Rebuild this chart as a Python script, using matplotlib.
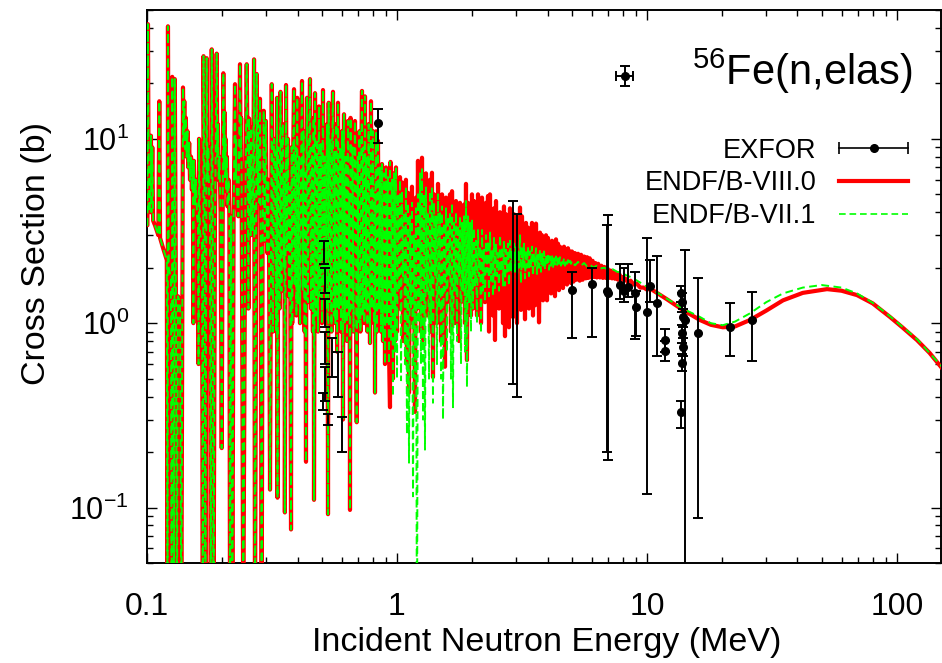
import numpy as np
import matplotlib
matplotlib.use("Agg")
import matplotlib.pyplot as plt
from matplotlib.lines import Line2D
from matplotlib.legend_handler import HandlerLine2D, HandlerTuple
from matplotlib.ticker import NullFormatter, LogLocator, FixedLocator, FixedFormatter

plt.rcParams['font.family'] = ['Liberation Sans', 'DejaVu Sans']
plt.rcParams['mathtext.fontset'] = 'custom'
plt.rcParams['mathtext.rm'] = 'Liberation Sans'
plt.rcParams['mathtext.it'] = 'Liberation Sans:italic'
plt.rcParams['mathtext.bf'] = 'Liberation Sans:bold'

# ---------------- data (energy in MeV, cross section in b) ----------------
# resolved-resonance region, common to both evaluations (0.1 - 0.9 MeV)
res_low_pts = [
    (0.1000, 3.40), (0.1004, 3.40), (0.1009, 41.9), (0.1016, 4.2), (0.1030, 4.0),
    (0.1037, 10.4), (0.1042, 4.0), (0.1050, 9.0), (0.1058, 3.6), (0.1076, 3.4),
    (0.1110, 3.0), (0.1120, 16.0), (0.1128, 2.9), (0.1160, 2.55), (0.1200, 2.2),
    (0.1208, 0.02), (0.1213, 40.8), (0.1222, 2.0), (0.1247, 1.75), (0.1255, 0.02),
    (0.1262, 21.7), (0.1275, 1.6), (0.1283, 0.02), (0.1292, 21.1), (0.1305, 1.5),
    (0.1318, 0.02), (0.1330, 1.4), (0.1355, 1.3), (0.1372, 0.02), (0.1393, 19.0),
    (0.1400, 9.8), (0.1410, 16.0), (0.1420, 8.8), (0.1430, 13.0), (0.1440, 8.0),
    (0.1452, 11.0), (0.1462, 7.0), (0.1475, 9.5), (0.1486, 6.0), (0.1500, 8.0),
    (0.1512, 5.3), (0.1525, 7.6), (0.1533, 1.0), (0.1540, 7.6), (0.1556, 4.4),
    (0.1570, 6.0), (0.1585, 3.8), (0.1600, 3.5), (0.1608, 0.6), (0.1615, 10.0),
    (0.1629, 3.1), (0.1660, 2.7), (0.1672, 0.02), (0.1683, 28.1), (0.1700, 3.5),
    (0.1712, 0.02), (0.1733, 27.4), (0.1745, 6.0), (0.1760, 9.0), (0.1772, 4.5),
    (0.1785, 3.6), (0.1800, 0.02), (0.1815, 30.6), (0.1830, 5.0), (0.1845, 0.02),
    (0.1870, 3.5), (0.1900, 29.0), (0.1912, 8.0), (0.1922, 12.0), (0.1935, 6.0),
    (0.1950, 8.0), (0.1970, 4.0), (0.1990, 0.21), (0.2020, 22.7), (0.2030, 7.0),
    (0.2040, 14.0), (0.2050, 6.2), (0.2062, 10.0), (0.2075, 5.2), (0.2088, 8.0),
    (0.2100, 4.3), (0.2120, 6.0), (0.2135, 3.8), (0.2148, 0.02), (0.2170, 3.8),
    (0.2195, 0.02), (0.2220, 3.6), (0.2249, 19.8), (0.2262, 6.0), (0.2275, 10.0),
    (0.2290, 5.0), (0.2320, 3.8), (0.2355, 25.4), (0.2370, 8.0), (0.2380, 13.0),
    (0.2390, 6.5), (0.2427, 0.02), (0.2470, 3.5), (0.2505, 25.4), (0.2530, 7.0),
    (0.2545, 1.2), (0.2560, 12.9), (0.2575, 4.5), (0.2590, 8.0), (0.2600, 3.0),
    (0.2610, 11.5), (0.2630, 4.0), (0.2650, 3.2), (0.2680, 27.0), (0.2704, 0.02),
    (0.2746, 22.5), (0.2760, 7.0), (0.2770, 13.0), (0.2780, 5.0), (0.2800, 9.0),
    (0.2815, 4.5), (0.2831, 16.5), (0.2850, 3.0), (0.2875, 0.02), (0.2900, 2.6),
    (0.2930, 14.2), (0.2945, 4.5), (0.2960, 2.8), (0.2975, 7.0), (0.2990, 12.5),
    (0.3010, 3.5), (0.3030, 2.4), (0.3055, 6.0), (0.3080, 2.0), (0.3105, 0.125),
    (0.3155, 19.8), (0.3175, 5.0), (0.3192, 0.9), (0.3220, 10.0), (0.3251, 8.0),
    (0.3266, 3.0), (0.3281, 0.9), (0.3296, 6.0), (0.3312, 16.7), (0.3327, 0.113),
    (0.3342, 9.0), (0.3357, 6.0), (0.3373, 2.5), (0.3390, 1.2), (0.3405, 7.0),
    (0.3420, 18.0), (0.3436, 4.0), (0.3450, 1.5), (0.3467, 8.0), (0.3500, 12.0),
    (0.3515, 3.5), (0.3530, 2.0), (0.3545, 6.5), (0.3560, 0.094), (0.3598, 19.6),
    (0.3615, 5.0), (0.3631, 2.5), (0.3648, 7.0), (0.3665, 10.0), (0.3682, 3.0),
    (0.3699, 1.4), (0.3733, 5.5), (0.3768, 0.076), (0.3790, 9.0), (0.3800, 3.0),
    (0.3810, 1.0), (0.3838, 7.5), (0.3873, 18.6), (0.3885, 4.0), (0.3900, 1.6),
    (0.3915, 6.0), (0.3930, 9.0), (0.3945, 3.5), (0.3960, 1.1), (0.3975, 7.0),
    (0.3990, 16.7), (0.4005, 4.5), (0.4018, 1.28), (0.4036, 5.5), (0.4055, 8.0),
    (0.4074, 2.5), (0.4093, 1.0), (0.4131, 7.0), (0.4169, 20.6), (0.4185, 5.0),
    (0.4200, 1.5), (0.4215, 6.0), (0.4230, 11.0), (0.4250, 3.0), (0.4270, 0.9),
    (0.4300, 6.5), (0.4325, 0.177), (0.4345, 7.5), (0.4365, 16.7), (0.4383, 4.0),
    (0.4400, 1.3), (0.4446, 7.0), (0.4487, 21.1), (0.4508, 5.0), (0.4530, 1.2),
    (0.4550, 6.0), (0.4570, 9.0), (0.4590, 3.0), (0.4610, 0.9), (0.4625, 6.0),
    (0.4640, 13.0), (0.4656, 0.11), (0.4700, 17.7), (0.4720, 4.0), (0.4742, 1.1),
    (0.4764, 6.0), (0.4786, 10.0), (0.4808, 3.5), (0.4831, 0.9), (0.4853, 7.0),
    (0.4875, 15.0), (0.4897, 4.0), (0.4920, 1.4), (0.4943, 6.0), (0.4966, 9.5),
    (0.4990, 3.0), (0.5012, 1.0), (0.5035, 7.0), (0.5058, 18.4), (0.5080, 4.5),
    (0.5105, 1.6), (0.5128, 6.5), (0.5152, 8.0), (0.5176, 3.0), (0.5200, 1.2),
    (0.5224, 6.0), (0.5248, 12.0), (0.5272, 3.5), (0.5297, 0.092), (0.5330, 15.7),
    (0.5350, 4.0), (0.5370, 1.3), (0.5395, 6.5), (0.5420, 10.0), (0.5445, 3.0),
    (0.5470, 0.9), (0.5495, 7.0), (0.5546, 18.0), (0.5568, 4.5), (0.5590, 1.1),
    (0.5605, 5.5), (0.5620, 8.5), (0.5645, 3.0), (0.5670, 1.0), (0.5695, 6.5),
    (0.5720, 12.0), (0.5740, 3.5), (0.5760, 0.7), (0.5784, 6.0), (0.5808, 15.7),
    (0.5834, 4.5), (0.5860, 1.2), (0.5890, 6.0), (0.5920, 9.0), (0.5945, 3.0),
    (0.5970, 0.9), (0.6000, 6.5), (0.6026, 11.0), (0.6055, 3.0), (0.6081, 0.3),
    (0.6110, 7.0), (0.6138, 13.6), (0.6165, 4.0), (0.6190, 1.0), (0.6220, 5.5),
    (0.6250, 8.0), (0.6280, 3.0), (0.6310, 0.8), (0.6340, 6.0), (0.6368, 12.5),
    (0.6400, 4.0), (0.6430, 1.1), (0.6460, 5.0), (0.6486, 0.097), (0.6520, 13.0),
    (0.6550, 4.5), (0.6580, 1.2), (0.6610, 6.0), (0.6640, 9.0), (0.6670, 3.0),
    (0.6700, 0.9), (0.6745, 6.5), (0.6792, 12.5), (0.6845, 4.0), (0.6900, 0.29),
    (0.6930, 5.0), (0.6960, 8.0), (0.6990, 3.0), (0.7020, 1.0), (0.7050, 6.0),
    (0.7080, 11.0), (0.7110, 3.5), (0.7140, 0.9), (0.7190, 7.0), (0.7244, 18.2),
    (0.7267, 4.0), (0.7290, 1.1), (0.7315, 6.0), (0.7340, 9.0), (0.7370, 3.0),
    (0.7400, 1.0), (0.7425, 7.0), (0.7447, 17.0), (0.7475, 4.5), (0.7500, 1.2),
    (0.7525, 5.5), (0.7550, 8.0), (0.7585, 3.0), (0.7620, 0.9), (0.7660, 6.0),
    (0.7700, 12.0), (0.7750, 3.5), (0.7798, 0.78), (0.7835, 7.0), (0.7870, 16.0),
    (0.7905, 4.0), (0.7943, 1.2), (0.7980, 6.0), (0.8017, 11.0), (0.8055, 3.5),
    (0.8090, 1.0), (0.8130, 5.0), (0.8166, 0.42), (0.8200, 6.0), (0.8241, 11.0),
    (0.8280, 3.0), (0.8318, 0.9), (0.8355, 5.5), (0.8395, 9.75), (0.8435, 3.5),
    (0.8472, 1.2), (0.8510, 4.5), (0.8551, 7.0), (0.8590, 2.5), (0.8630, 0.9),
    (0.8670, 4.5), (0.8710, 7.3), (0.8750, 2.5), (0.8790, 0.8), (0.8830, 4.0),
    (0.8872, 6.5), (0.8910, 2.5), (0.8954, 0.6),
]

# ENDF/B-VIII.0 above 0.9 MeV
viii_high_pts = [
    (0.9036, 7.0), (0.9080, 2.5), (0.9120, 1.0), (0.9160, 4.0), (0.9204, 6.2),
    (0.9250, 2.0), (0.9290, 0.7), (0.9376, 0.35), (0.9420, 7.5), (0.9440, 3.0),
    (0.9462, 0.9), (0.9505, 4.5), (0.9550, 6.0), (0.9595, 2.0), (0.9638, 0.5),
    (0.9680, 4.0), (0.9727, 6.5), (0.9770, 2.5), (0.9817, 0.8), (0.9860, 4.5),
    (0.9908, 7.0), (0.9950, 2.5),
    (1.000, 0.9), (1.009, 5.5), (1.019, 1.2), (1.028, 6.2), (1.038, 2.0),
    (1.047, 5.8), (1.057, 0.8), (1.067, 4.5), (1.076, 1.5), (1.086, 6.0),
    (1.096, 0.6), (1.106, 5.1), (1.117, 0.42), (1.127, 4.0), (1.138, 1.8),
    (1.148, 5.5), (1.159, 1.0), (1.169, 3.5), (1.180, 0.33), (1.191, 4.8),
    (1.202, 1.2), (1.213, 7.6), (1.225, 2.0), (1.236, 6.0), (1.247, 0.9),
    (1.259, 7.9), (1.271, 0.81), (1.282, 5.5), (1.294, 1.6), (1.306, 6.5),
    (1.318, 1.1), (1.330, 4.5), (1.343, 2.2), (1.355, 6.0), (1.368, 0.9),
    (1.380, 6.55), (1.393, 0.51), (1.406, 5.0), (1.419, 1.5), (1.432, 4.2),
    (1.445, 1.0), (1.459, 5.7), (1.472, 2.0), (1.486, 4.5), (1.500, 0.8),
    (1.514, 5.0), (1.528, 1.4), (1.542, 3.8), (1.556, 0.58), (1.570, 4.8),
    (1.585, 1.3), (1.600, 4.2), (1.614, 2.0), (1.629, 5.0), (1.644, 0.9),
    (1.660, 5.2), (1.675, 1.5), (1.690, 4.0), (1.706, 1.0), (1.722, 4.6),
    (1.738, 2.0), (1.754, 3.8), (1.770, 0.8), (1.786, 4.5), (1.803, 1.3),
    (1.820, 4.0), (1.837, 1.8), (1.854, 4.4), (1.871, 1.0), (1.888, 5.7),
    (1.905, 0.63), (1.923, 4.5), (1.941, 1.4), (1.959, 4.0), (1.977, 1.1),
    (1.995, 5.0), (2.013, 1.2), (2.032, 4.6), (2.051, 1.5), (2.070, 3.5),
    (2.089, 1.1), (2.109, 5.0), (2.128, 2.0), (2.148, 4.2), (2.168, 1.0),
    (2.188, 4.8), (2.208, 1.6), (2.229, 3.8), (2.249, 1.3), (2.270, 4.5),
    (2.291, 2.2), (2.312, 4.9), (2.334, 0.9), (2.355, 5.0), (2.377, 1.4),
    (2.399, 3.6), (2.421, 1.1), (2.444, 4.2), (2.466, 0.81), (2.489, 4.6),
    (2.512, 1.8), (2.535, 3.5), (2.559, 1.2), (2.582, 4.0), (2.606, 2.0),
    (2.630, 3.4), (2.655, 1.0), (2.679, 4.3), (2.704, 0.85), (2.729, 3.9),
    (2.754, 1.6), (2.780, 3.8), (2.805, 0.95), (2.831, 4.2), (2.858, 1.4),
    (2.884, 3.3), (2.911, 1.08), (2.938, 3.9), (2.965, 1.8), (2.992, 3.2),
    (3.020, 1.0), (3.048, 3.6), (3.076, 1.5), (3.105, 4.24), (3.133, 1.18),
    (3.162, 3.8), (3.192, 2.0), (3.221, 3.3), (3.251, 1.05), (3.281, 3.5),
    (3.312, 1.4), (3.342, 3.3), (3.373, 1.2), (3.404, 3.0), (3.436, 1.8),
    (3.467, 3.5), (3.500, 1.1), (3.532, 3.2), (3.565, 1.25), (3.598, 3.47),
    (3.631, 1.6), (3.665, 2.9), (3.699, 1.01), (3.733, 3.1), (3.768, 1.5),
    (3.802, 3.0), (3.838, 1.33), (3.873, 2.8), (3.908, 1.7), (3.945, 3.0),
    (3.981, 1.33), (4.018, 2.9), (4.055, 1.6), (4.093, 2.7), (4.131, 1.45),
    (4.169, 2.8), (4.208, 1.7), (4.246, 2.6), (4.285, 1.4), (4.325, 2.85),
    (4.365, 1.65), (4.406, 2.7), (4.446, 1.51), (4.487, 2.6), (4.529, 1.75),
    (4.571, 2.55), (4.613, 1.55), (4.656, 2.6), (4.699, 1.7), (4.742, 2.5),
    (4.786, 1.62), (4.831, 2.55), (4.875, 1.8), (4.920, 2.45), (4.966, 1.65),
    (5.012, 2.45), (5.080, 1.68), (5.150, 2.40), (5.220, 1.72), (5.300, 2.38),
    (5.380, 1.70), (5.450, 2.35), (5.530, 1.72), (5.610, 2.30), (5.690, 1.75),
    (5.760, 2.28), (5.830, 1.76), (5.900, 2.25), (5.980, 1.77), (6.060, 2.18),
    (6.140, 1.78), (6.220, 2.12), (6.300, 1.77), (6.380, 2.10), (6.480, 1.77),
    (6.570, 2.05), (6.660, 1.76), (6.750, 2.02), (6.850, 1.76), (6.950, 1.98),
    (7.050, 1.76), (7.150, 1.93), (7.250, 1.75), (7.350, 1.90), (7.450, 1.74),
    (7.550, 1.87), (7.660, 1.72), (7.780, 1.83), (7.900, 1.71), (8.000, 1.78),
    (8.200, 1.74), (8.400, 1.66), (8.600, 1.70), (8.850, 1.62), (9.100, 1.64),
    (9.400, 1.56), (9.700, 1.56), (10.00, 1.52),
]
viii_smooth_pts = [
    (10.3, 1.54), (12.0, 1.35), (13.9, 1.18), (16.3, 1.04), (18.0, 0.98),
    (20.1, 0.95), (22.5, 0.96), (25.8, 1.04), (30.0, 1.17), (35.0, 1.33),
    (42.0, 1.46), (52.5, 1.53), (60.0, 1.50), (69.2, 1.42), (80.0, 1.28),
    (93.8, 1.08), (105.0, 0.95), (120.2, 0.81), (135.0, 0.69), (151.4, 0.57),
]

# ENDF/B-VII.1 above 0.9 MeV
vii_high_pts = [
    (0.9036, 7.0), (0.9080, 2.0), (0.9120, 1.0), (0.9160, 4.5), (0.9204, 6.2),
    (0.9250, 1.5), (0.9290, 0.6), (0.9330, 3.5), (0.9376, 7.5), (0.9420, 2.0),
    (0.9462, 0.8), (0.9505, 4.0), (0.9550, 6.0), (0.9595, 1.5), (0.9638, 0.4),
    (0.9680, 3.5), (0.9727, 6.5), (0.9770, 2.0), (0.9817, 0.7), (0.9860, 4.0),
    (0.9908, 7.0), (0.9950, 2.0),
    (1.000, 0.5), (1.009, 5.0), (1.019, 1.5), (1.028, 6.0), (1.038, 0.49),
    (1.047, 5.2), (1.057, 1.8), (1.067, 4.0), (1.076, 0.6), (1.086, 5.5),
    (1.096, 0.25), (1.106, 4.5), (1.117, 0.175), (1.127, 3.8), (1.138, 1.2),
    (1.148, 4.5), (1.159, 0.115), (1.169, 3.0), (1.180, 0.5), (1.191, 4.2),
    (1.202, 0.01), (1.213, 5.0), (1.225, 1.0), (1.236, 6.5), (1.247, 0.6),
    (1.259, 7.0), (1.271, 0.3), (1.282, 5.0), (1.294, 0.206), (1.306, 5.5),
    (1.318, 1.5), (1.330, 4.0), (1.343, 0.5), (1.355, 5.2), (1.368, 1.0),
    (1.380, 5.5), (1.393, 0.37), (1.406, 4.5), (1.419, 1.8), (1.432, 3.8),
    (1.445, 0.6), (1.459, 5.0), (1.472, 1.2), (1.486, 4.0), (1.500, 0.5),
    (1.514, 4.3), (1.528, 0.3), (1.542, 3.5), (1.556, 1.5), (1.570, 4.2),
    (1.585, 0.7), (1.600, 3.8), (1.614, 1.8), (1.629, 4.0), (1.644, 0.5),
    (1.660, 4.5), (1.675, 0.35), (1.690, 3.6), (1.706, 1.5), (1.722, 4.0),
    (1.738, 0.8), (1.754, 3.4), (1.770, 1.8), (1.786, 3.8), (1.803, 0.6),
    (1.820, 3.5), (1.837, 1.5), (1.854, 3.8), (1.871, 0.7), (1.888, 4.6),
    (1.905, 0.45), (1.923, 3.8), (1.941, 1.3), (1.959, 3.5), (1.977, 0.9),
    (1.995, 3.6), (2.013, 1.2), (2.032, 3.3), (2.051, 1.6), (2.070, 2.8),
    (2.089, 1.0), (2.109, 3.2), (2.128, 1.8), (2.148, 2.6), (2.168, 0.88),
    (2.188, 3.2), (2.208, 1.5), (2.229, 2.5), (2.249, 1.3), (2.270, 3.0),
    (2.291, 1.9), (2.312, 2.8), (2.334, 1.4), (2.355, 3.1), (2.377, 1.7),
    (2.399, 2.5), (2.421, 1.4), (2.444, 2.9), (2.466, 1.5), (2.489, 2.7),
    (2.512, 1.8), (2.535, 2.4), (2.559, 1.5), (2.582, 3.0), (2.606, 1.9),
    (2.630, 2.6), (2.655, 1.6), (2.679, 2.8), (2.704, 1.6), (2.729, 2.5),
    (2.754, 1.9), (2.780, 2.7), (2.805, 1.6), (2.831, 2.8), (2.858, 1.9),
    (2.884, 2.5), (2.911, 1.7), (2.938, 2.7), (2.965, 1.9), (2.992, 2.6),
    (3.020, 1.7), (3.048, 2.5), (3.076, 2.0), (3.105, 3.0), (3.133, 1.65),
    (3.162, 2.6), (3.192, 2.0), (3.221, 2.7), (3.251, 1.75), (3.281, 2.5),
    (3.312, 2.0), (3.342, 2.6), (3.373, 1.8), (3.404, 2.45), (3.436, 2.0),
    (3.467, 2.6), (3.500, 1.8), (3.532, 2.4), (3.565, 2.0), (3.598, 2.55),
    (3.631, 1.85), (3.665, 2.35), (3.699, 2.0), (3.733, 2.5), (3.768, 1.9),
    (3.802, 2.4), (3.838, 2.05), (3.873, 2.45), (3.908, 1.95), (3.945, 2.35),
    (3.981, 2.05), (4.018, 2.4), (4.055, 1.95), (4.093, 2.3), (4.131, 2.05),
    (4.169, 2.35), (4.208, 2.0), (4.246, 2.3), (4.285, 2.08), (4.325, 2.3),
    (4.365, 2.05), (4.406, 2.25), (4.446, 2.1), (4.487, 2.28), (4.529, 2.05),
    (4.571, 2.22), (4.613, 2.1), (4.656, 2.25), (4.699, 2.05), (4.742, 2.2),
    (4.786, 2.1), (4.831, 2.2), (4.875, 2.06), (4.920, 2.18), (4.966, 2.1),
    (5.012, 2.18), (5.150, 2.06), (5.300, 2.15), (5.450, 2.05), (5.600, 2.12),
    (5.760, 2.03), (5.920, 2.08), (6.100, 2.00), (6.300, 2.05), (6.500, 1.98),
    (6.750, 2.00), (7.000, 1.95), (7.300, 1.96), (7.600, 1.90), (7.900, 1.88),
    (8.250, 1.82), (8.600, 1.78), (9.000, 1.72), (9.400, 1.66), (9.800, 1.60),
]
vii_smooth_pts = [
    (10.3, 1.55), (12.0, 1.36), (13.9, 1.20), (16.3, 1.08), (18.0, 1.00),
    (20.1, 0.975), (22.5, 1.02), (25.8, 1.13), (30.0, 1.30), (35.0, 1.45),
    (42.0, 1.56), (50.0, 1.61), (60.0, 1.56), (69.2, 1.45), (80.0, 1.29),
    (93.8, 1.09), (120.2, 0.82), (151.4, 0.58),
]

# EXFOR: energy, cross section, lower bound, upper bound
exfor_pts = [
    (0.84, 12.2, 9.5, 14.5),
    (5.01, 1.51, 0.83, 1.9), (6.0, 1.64, 0.84, 2.0), (6.95, 1.5, 0.2, 3.4),
    (7.0, 1.45, 0.18, 3.84), (7.8, 1.62, 1.35, 2.1), (8.1, 1.5, 1.3, 2.0),
    (8.4, 1.58, 1.38, 2.1), (8.95, 1.45, 0.82, 1.9), (9.0, 1.22, 0.85, 1.5),
    (10.0, 1.15, 0.118, 2.9), (10.3, 1.6, 1.3, 2.2), (11.0, 1.28, 0.66, 2.3),
    (11.8, 0.81, 0.70, 0.93), (11.85, 0.71, 0.62, 0.80),
    (13.7, 1.45, 1.3, 1.6), (13.8, 1.30, 1.15, 1.45), (13.9, 1.08, 0.95, 1.20),
    (13.8, 0.88, 0.78, 0.98), (13.9, 0.74, 0.66, 0.83), (13.85, 0.61, 0.55, 0.68),
    (13.7, 0.33, 0.27, 0.38), (14.2, 1.04, 0.02, 2.48),
    (16.0, 0.88, 0.088, 1.75), (21.5, 0.95, 0.66, 1.28), (26.3, 1.04, 0.62, 1.47),
]
# EXFOR points whose markers are hidden in the reference (only bars visible)
exfor_bar_pts = [
    (0.512, 2.4, 2.1, 2.8), (0.513, 1.7, 1.45, 2.0), (0.514, 1.15, 0.95, 1.35),
    (0.515, 0.75, 0.6, 0.9), (0.514, 0.48, 0.38, 0.58), (0.506, 0.38, 0.34, 0.42),
    (0.549, 0.65, 0.51, 0.83), (0.580, 0.55, 0.40, 0.70), (0.603, 0.26, 0.20, 0.31),
    (0.529, 0.30, 0.28, 0.32),
    (2.91, 1.5, 0.47, 4.6), (3.02, 1.33, 0.40, 3.9),
]
# one EXFOR point with an energy uncertainty: E, E_low, E_high, xs, xs_low, xs_high
exfor_xerr_pt = (8.17, 7.55, 8.80, 21.9, 19.3, 24.8)

x_ticks = [0.1, 1, 10, 100]
x_ticklabels = ['0.1', '1', '10', '100']
y_ticks = [0.1, 1, 10]
y_ticklabels = [r'$10^{-1}$', r'$10^{0}$', r'$10^{1}$']

RED = '#ff0000'
GREEN = '#00ff00'
GREEN_DASH = (0, (4, 2.3))

# ---------------- build series ----------------
viii_E, viii_xs = np.array(res_low_pts + viii_high_pts + viii_smooth_pts).T
vii_E, vii_xs = np.array(res_low_pts + vii_high_pts + vii_smooth_pts).T
ex_E, ex_xs, ex_lo, ex_hi = np.array(exfor_pts).T
exb_E, exb_xs, exb_lo, exb_hi = np.array(exfor_bar_pts).T

# ---------------- figure ----------------
fig = plt.figure(figsize=(9.42, 6.63), dpi=100)
ax = fig.add_axes([147 / 942, 100 / 663, 794 / 942, 553 / 663])

ax.plot(viii_E, viii_xs, color=RED, lw=3.0, zorder=3, solid_joinstyle='round')
ax.plot(vii_E, vii_xs, color=GREEN, lw=1.4, ls=GREEN_DASH, zorder=4)

eb_kw = dict(color='black', elinewidth=1.4, capsize=3.5, capthick=1.4, zorder=5)
ax.errorbar(ex_E, ex_xs, yerr=[ex_xs - ex_lo, ex_hi - ex_xs], fmt='o', ms=5.5, **eb_kw)
ax.errorbar(exb_E, exb_xs, yerr=[exb_xs - exb_lo, exb_hi - exb_xs], fmt='none', **eb_kw)
E0, E0lo, E0hi, s0, s0lo, s0hi = exfor_xerr_pt
ax.errorbar([E0], [s0], xerr=[[E0 - E0lo], [E0hi - E0]], yerr=[[s0 - s0lo], [s0hi - s0]],
            fmt='o', ms=5.5, **eb_kw)

ax.set_xscale('log')
ax.set_yscale('log')
ax.set_xlim(0.1, 150)
ax.set_ylim(0.05, 50)

ax.xaxis.set_major_locator(FixedLocator(x_ticks))
ax.xaxis.set_major_formatter(FixedFormatter(x_ticklabels))
ax.yaxis.set_major_locator(FixedLocator(y_ticks))
ax.yaxis.set_major_formatter(FixedFormatter(y_ticklabels))
ax.xaxis.set_minor_locator(LogLocator(base=10, subs=np.arange(2, 10), numticks=20))
ax.yaxis.set_minor_locator(LogLocator(base=10, subs=np.arange(2, 10), numticks=20))
ax.xaxis.set_minor_formatter(NullFormatter())
ax.yaxis.set_minor_formatter(NullFormatter())

ax.tick_params(which='both', direction='in', top=True, right=True, width=1.0)
ax.tick_params(which='major', length=7.5)
ax.tick_params(which='minor', length=4)
ax.tick_params(axis='x', which='major', labelsize=23, pad=21)
ax.tick_params(axis='y', which='major', labelsize=22, pad=13)
for sp in ax.spines.values():
    sp.set_linewidth(1.4)

ax.set_xlabel('Incident Neutron Energy (MeV)', fontsize=24.5)
ax.set_ylabel('Cross Section (b)', fontsize=24.5)
ax.xaxis.set_label_coords(0.504, -0.115)
ax.yaxis.set_label_coords(-0.12, 0.56)

fig.text(913 / 942, 1 - 85 / 663, r'$^{56}$Fe(n,elas)', ha='right', va='baseline', fontsize=30)

# legend
h_line = Line2D([], [], color='black', marker='o', ms=5.5, lw=1.2)
h_caps = Line2D([], [], color='black', marker='|', ms=8, mew=1.2, ls='none')
h_viii = Line2D([], [], color=RED, lw=3.0)
h_vii = Line2D([], [], color=GREEN, lw=1.2, ls=GREEN_DASH)
leg = ax.legend([(h_line, h_caps), h_viii, h_vii], ['EXFOR', 'ENDF/B-VIII.0', 'ENDF/B-VII.1'],
                handler_map={h_caps: HandlerLine2D(numpoints=2, marker_pad=0),
                             tuple: HandlerTuple(ndivide=1, pad=0)},
                loc='upper right', bbox_to_anchor=(922 / 942, 1 - 124 / 663),
                bbox_transform=fig.transFigure, frameon=False, markerfirst=False,
                fontsize=19.5, handlelength=2.55, handletextpad=0.85, labelspacing=0.255,
                borderpad=0, numpoints=1)
leg.set_zorder(10)

fig.savefig('out.png', dpi=100)
